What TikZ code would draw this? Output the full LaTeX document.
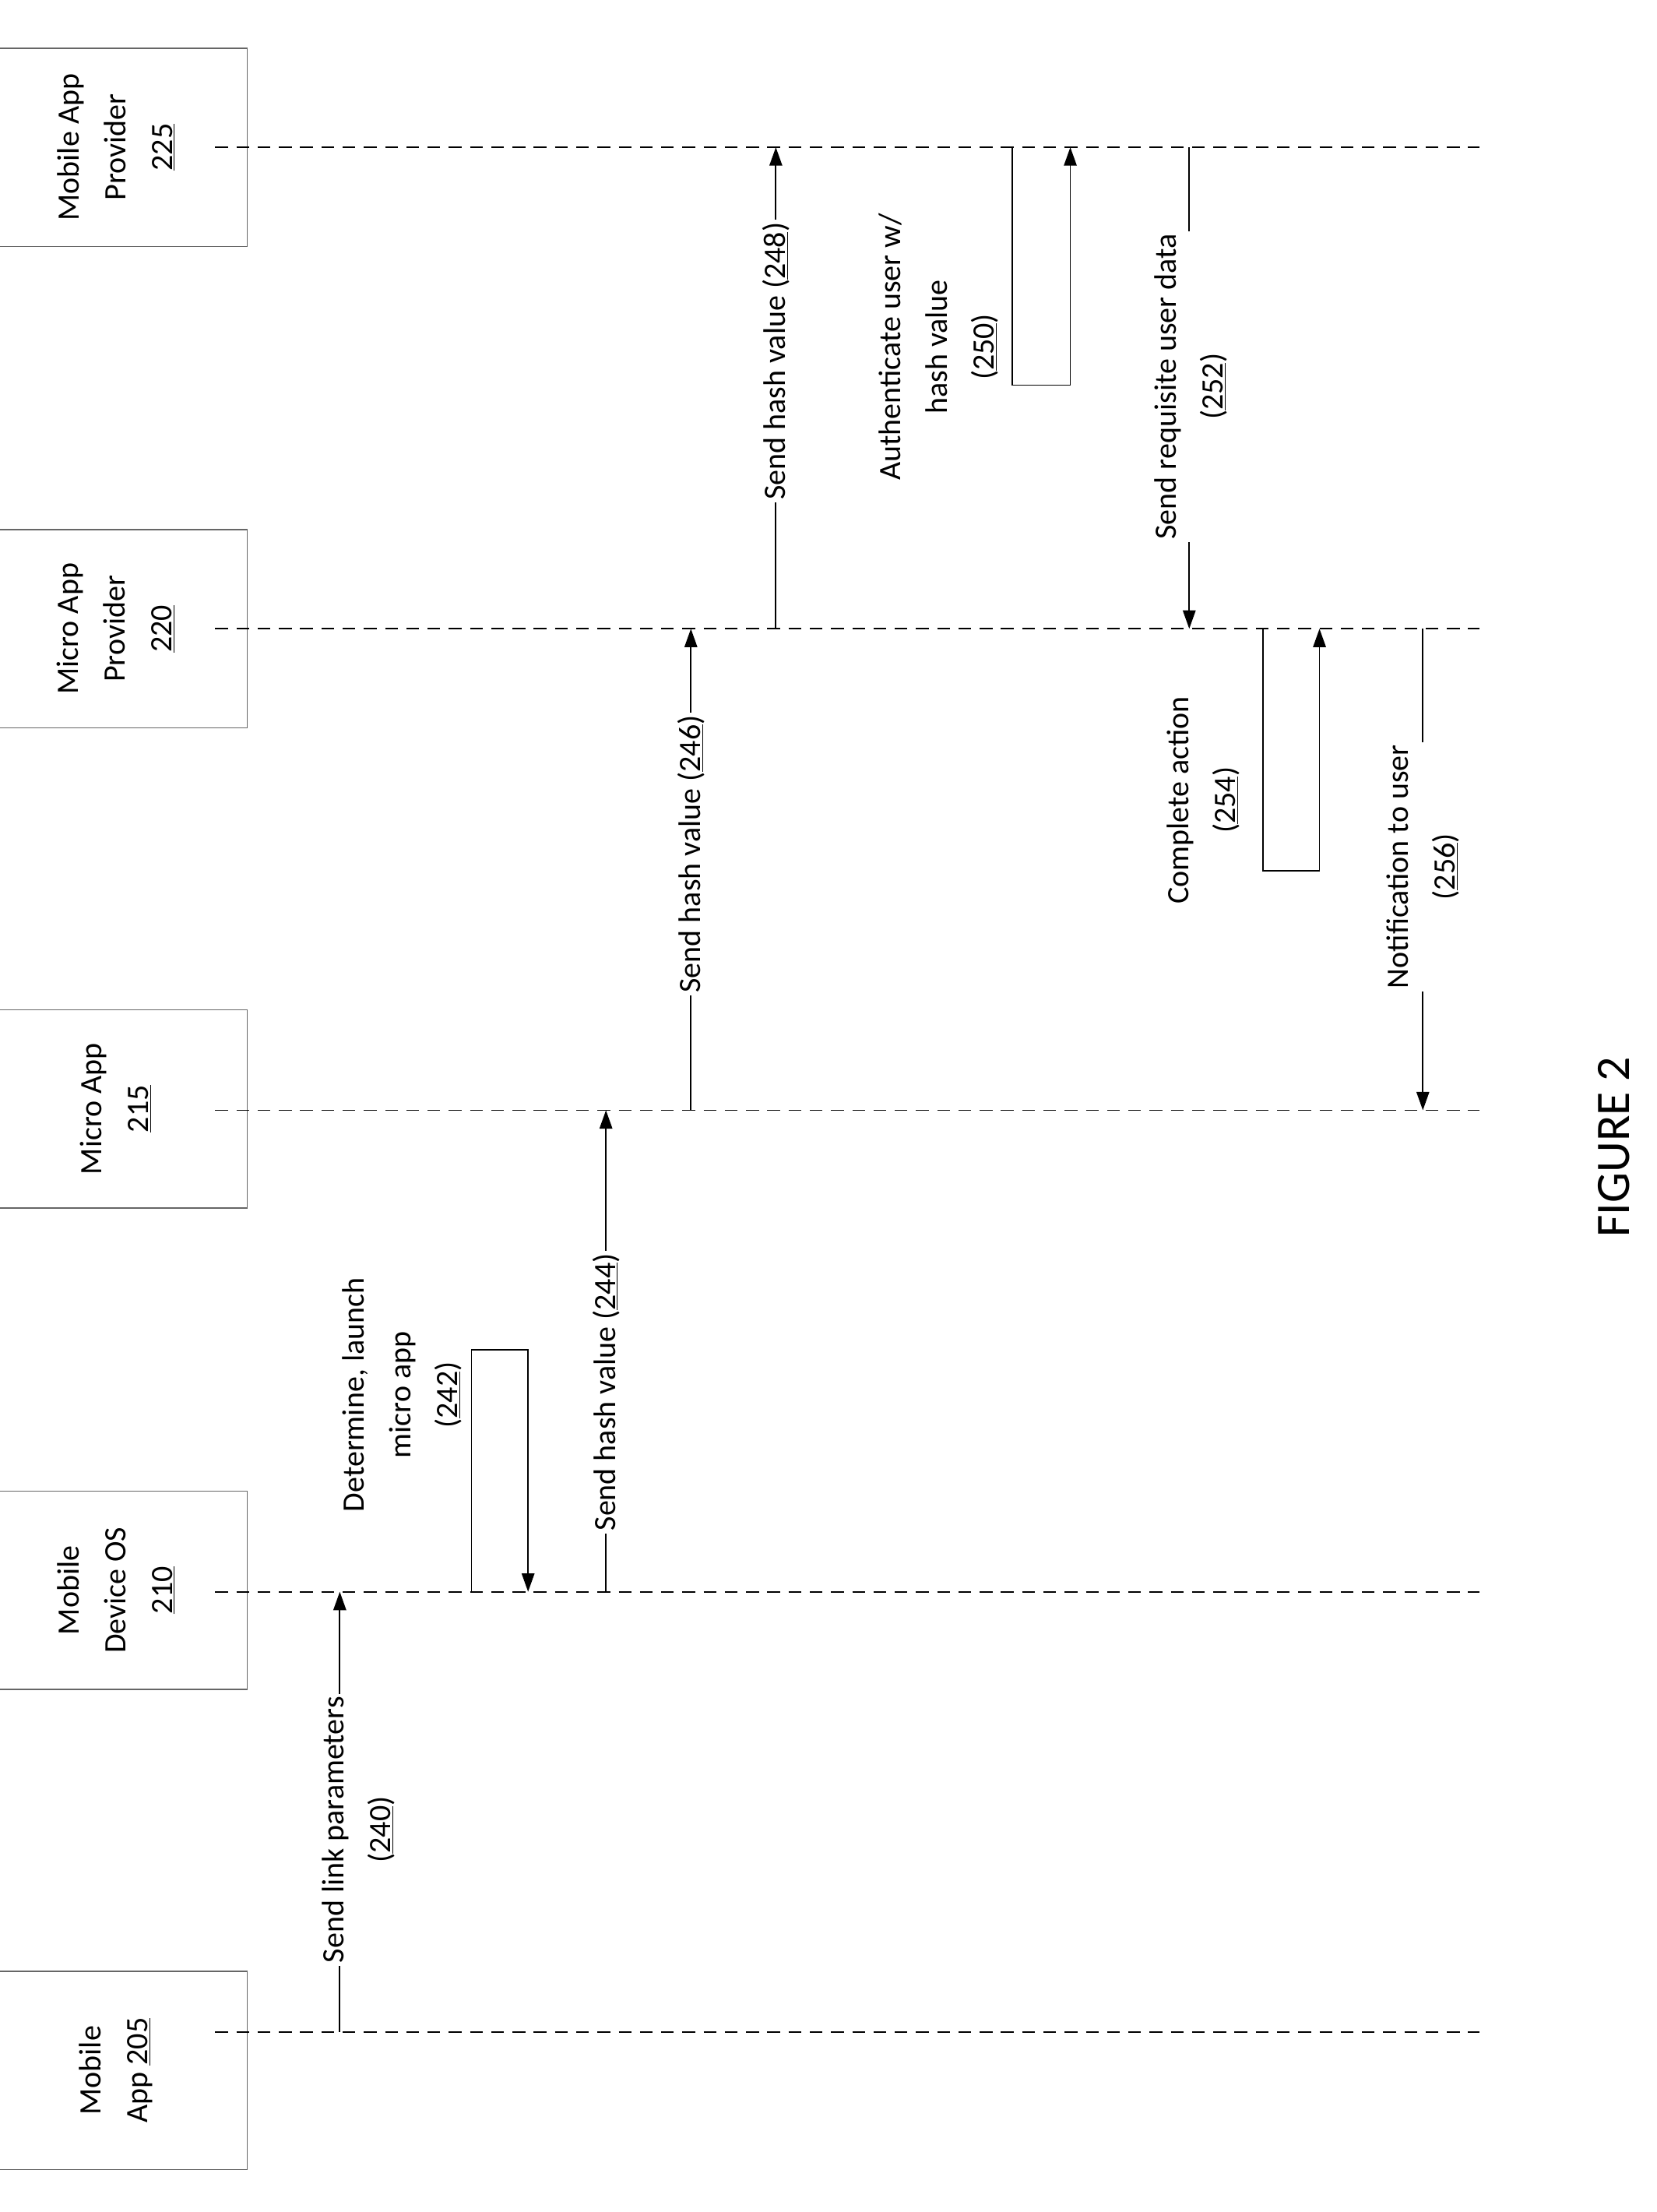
\documentclass[tikz,border=0pt]{standalone}
\usepackage{fontspec}
\setmainfont{Carlito}
\usetikzlibrary{arrows.meta}
\begin{document}
\begin{tikzpicture}[x=1pt,y=-1pt,
  every node/.style={font=\fontsize{22}{33}\selectfont},
  ent/.style={draw=black!60,line width=0.8pt,minimum width=140pt,minimum height=185pt,align=center,rotate=90,inner sep=0pt},
  life/.style={dashed,dash pattern=on 9pt off 6pt,line width=1pt},
  msg/.style={line width=1pt,-{Triangle[length=13pt,width=9pt]}},
  lbl/.style={fill=white,align=center,rotate=90,inner sep=2pt}]
\useasboundingbox (0,0) rectangle (1170,1562);
\node[ent] (b205) at (82,1462) {Mobile\\App \underline{205}};
\node[ent] (b210) at (82,1123) {Mobile\\Device OS\\\underline{210}};
\node[ent] (b215) at (82,783) {Micro App\\\underline{215}};
\node[ent] (b220) at (82,444) {Micro App\\Provider\\\underline{220}};
\node[ent] (b225) at (82,104) {Mobile App\\Provider\\\underline{225}};
\foreach \n/\y in {205/1435,210/1124,215/784,220/444,225/104}{
  \coordinate (s\n) at (152,\y); \coordinate (e\n) at (1045,\y);
  \draw[life] (s\n) -- (e\n);}
% 240
\coordinate (a1) at (240,1435); \coordinate (a2) at (240,1124);
\draw[msg] (a1) -- (a2);
\node[lbl] (l240) at (253,1292) {Send link parameters\\(\underline{240})};
% 242
\coordinate (c1) at (333,1124); \coordinate (c2) at (333,953); \coordinate (c3) at (373,953); \coordinate (c4) at (373,1124);
\draw[msg] (c1) -- (c2) -- (c3) -- (c4);
\node[lbl,fill=none] (l242) at (284,985) {Determine, launch\\micro app\\(\underline{242})};
% 244
\coordinate (d1) at (428,1124); \coordinate (d2) at (428,784);
\draw[msg] (d1) -- (d2);
\node[lbl] (l244) at (428,983) {Send hash value (\underline{244})};
% 246
\coordinate (f1) at (488,784); \coordinate (f2) at (488,444);
\draw[msg] (f1) -- (f2);
\node[lbl] (l246) at (488,603) {Send hash value (\underline{246})};
% 248
\coordinate (g1) at (548,444); \coordinate (g2) at (548,104);
\draw[msg] (g1) -- (g2);
\node[lbl] (l248) at (548,255) {Send hash value (\underline{248})};
% 250
\coordinate (h1) at (715,104); \coordinate (h2) at (715,272); \coordinate (h3) at (756,272); \coordinate (h4) at (756,104);
\draw[msg] (h1) -- (h2) -- (h3) -- (h4);
\node[lbl,fill=none] (l250) at (663,245) {Authenticate user w/\\hash value\\(\underline{250})};
% 252
\coordinate (k1) at (840,104); \coordinate (k2) at (840,444);
\draw[msg] (k1) -- (k2);
\node[lbl] (l252) at (841,273) {Send requisite user data\\(\underline{252})};
% 254
\coordinate (m1) at (892,444); \coordinate (m2) at (892,615); \coordinate (m3) at (932,615); \coordinate (m4) at (932,444);
\draw[msg] (m1) -- (m2) -- (m3) -- (m4);
\node[lbl,fill=none] (l254) at (850,565) {Complete action\\(\underline{254})};
% 256
\coordinate (n1) at (1005,444); \coordinate (n2) at (1005,784);
\draw[msg] (n1) -- (n2);
\node[lbl] (l256) at (1005,612) {Notification to user\\(\underline{256})};
\node[rotate=90,font=\fontsize{34}{40}\selectfont] (fig) at (1140,810) {FIGURE 2};
\end{tikzpicture}
\end{document}
